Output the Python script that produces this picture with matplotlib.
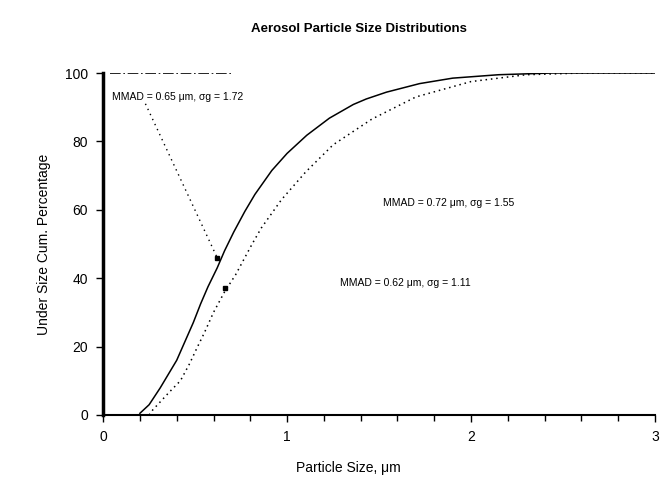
import numpy as np
import matplotlib.pyplot as plt

plt.rcParams['font.family'] = ['Liberation Sans', 'DejaVu Sans']

# solid curve
solid_x = [0.20, 0.25, 0.31, 0.40, 0.445, 0.49, 0.53, 0.57, 0.62, 0.66, 0.71,
           0.77, 0.825, 0.917, 1.00, 1.107, 1.23, 1.36, 1.43, 1.54, 1.72, 1.90, 2.15, 2.44, 3.00]
solid_y = [0.5, 3, 7.9, 16, 21.5, 27, 32.5, 37.5, 43, 48, 53.5,
           59.5, 64.5, 71.5, 76.5, 81.8, 86.8, 90.8, 92.4, 94.4, 96.9, 98.5, 99.5, 100, 100]

# dotted curve
dot_x = [0.25, 0.27, 0.36, 0.42, 0.47, 0.51, 0.55, 0.60, 0.66, 0.72, 0.76, 0.81, 0.86,
         0.97, 1.10, 1.25, 1.46, 1.70, 2.00, 2.30, 2.60, 3.00]
dot_y = [0, 1.5, 6.7, 10, 15, 19.6, 24, 30, 36, 41, 45, 50, 54.7,
         63, 71, 79, 86.5, 93, 97.5, 99.5, 100, 100]

# short dash-dot line near the top left
top_x = [0.04, 0.70]
top_y = [100, 100]

# annotation texts and where they point
notes = ['MMAD = 0.65 \u03bcm, \u03c3g = 1.72',
         'MMAD = 0.72 \u03bcm, \u03c3g = 1.55',
         'MMAD = 0.62 \u03bcm, \u03c3g = 1.11']
note_x = [0.05, 1.52, 1.29]
note_y = [93, 62, 38.5]
leader_x = [0.23, 0.62]
leader_y = [91, 46]
mark_x = [0.62, 0.66]
mark_y = [46, 37]

fig = plt.figure(figsize=(6.61, 4.91), dpi=100)
ax = fig.add_axes([0.156, 0.1548, 0.835, 0.6965])

ax.plot(solid_x, solid_y, color='black', lw=1.1)
ax.plot(dot_x, dot_y, color='black', lw=1.1, linestyle=(0, (1, 2.5)))
ax.plot(top_x, top_y, color='black', lw=1.2, linestyle='-.')
ax.plot(leader_x, leader_y, color='black', lw=1.0, linestyle=(0, (1, 3)))
ax.plot(mark_x, mark_y, 's', color='black', ms=3)

for t, x, y in zip(notes, note_x, note_y):
    ax.text(x, y, t, fontsize=7.5, ha='left', va='center')

ax.set_xlim(0, 3)
ax.set_ylim(0, 100)
ax.set_xticks([0, 1, 2, 3])
ax.set_xticks(np.arange(0, 3.01, 0.2), minor=True)
ax.set_yticks([0, 20, 40, 60, 80, 100])
ax.tick_params(direction='out', length=5, width=1, labelsize=10, pad=6)
ax.tick_params(which='minor', direction='out', length=4, width=1)

for s in ['top', 'right']:
    ax.spines[s].set_visible(False)
ax.spines['left'].set_linewidth(2.5)
ax.spines['bottom'].set_linewidth(1.5)

ax.set_xlabel('Particle Size, \u03bcm', fontsize=10)
ax.xaxis.set_label_coords(0.444, -0.135)
ax.set_ylabel('Under Size Cum. Percentage', fontsize=10, labelpad=10)
fig.text(0.543, 0.94, 'Aerosol Particle Size Distributions', fontsize=9.5,
         fontweight='bold', ha='center', va='center')

fig.savefig('out.png', dpi=100)
